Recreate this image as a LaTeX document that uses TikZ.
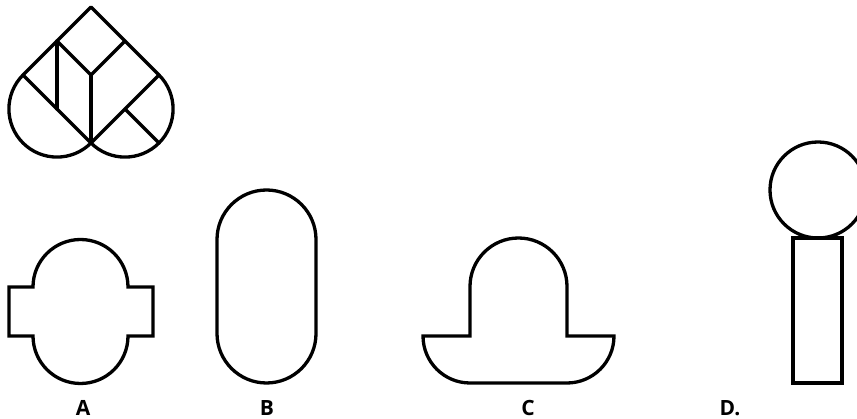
\documentclass[tikz,border=0pt]{standalone}
\usepackage{fontspec}
\setmainfont{Open Sans}
\begin{document}
\begin{tikzpicture}[x=1pt,y=-1pt,
  shape line/.style={line width=3.3pt,line join=round,line cap=round},
  lab/.style={font=\fontsize{21}{24}\selectfont\bfseries,anchor=center}]
\useasboundingbox (0,0) rectangle (857,419);
\clip (0,0) rectangle (857,419);
% ---- top figure (heart of two lobes)
\coordinate (T) at (91,7);
\coordinate (L) at (23,75);
\coordinate (B) at (91,143);
\coordinate (R) at (159,75);
\coordinate (C) at (91,75);
\coordinate (mUL) at (57,41);
\coordinate (mUR) at (125,41);
\coordinate (mLL) at (57,109);
\coordinate (mLR) at (125,109);
\coordinate (pR) at (159,143);
\draw[shape line] (B) -- (L) -- (T) -- (R) -- cycle;
\draw[shape line] (L) arc[start angle=225,end angle=45,radius=48.08];
\draw[shape line] (B) arc[start angle=135,end angle=-45,radius=48.08];
\draw[shape line] (mUL) -- (mLL);
\draw[shape line] (mUL) -- (C) -- (mUR);
\draw[shape line] (C) -- (B);
\draw[shape line] (mLR) -- (pR);
% ---- A
\draw[shape line,line join=miter] (33,287) arc[start angle=180,end angle=360,radius=47.5]
  -- (153,287) -- (153,336) -- (128,336)
  arc[start angle=0,end angle=180,radius=47.5]
  -- (9,336) -- (9,287) -- cycle;
\node[lab] (la) at (83,408) {A};
% ---- B
\draw[shape line] (217,239.5) arc[start angle=180,end angle=360,radius=49.5]
  -- (316,333.5) arc[start angle=0,end angle=180,radius=49.5] -- cycle;
\node[lab] (lb) at (267,408) {B};
% ---- C
\draw[shape line,line join=miter] (470,286.5) arc[start angle=180,end angle=360,radius=48.5]
  -- (567,336) -- (614,336)
  arc[start angle=0,end angle=90,radius=47] -- (470,383)
  arc[start angle=90,end angle=180,radius=47] -- (470,336) -- cycle;
\node[lab] (lc) at (528,408) {C};
% ---- D
\draw[shape line] (818,190) circle[radius=48];
\draw[shape line,line join=miter] (793,238) rectangle (842,383);
\node[lab] (ld) at (730,408) {D.};
\end{tikzpicture}
\end{document}
